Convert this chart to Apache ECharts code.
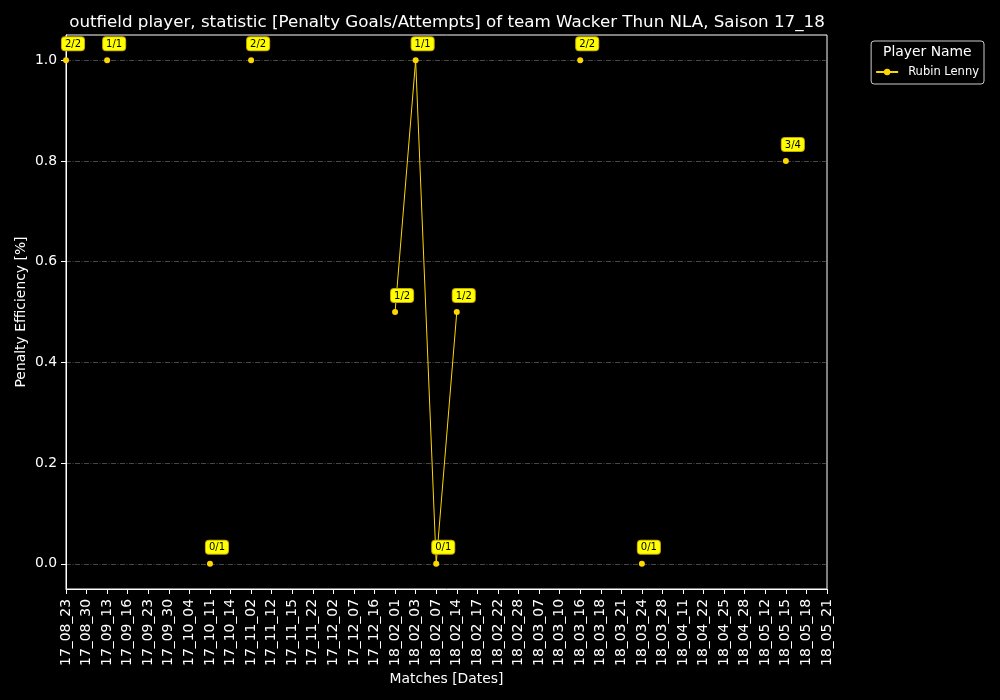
<!DOCTYPE html>
<html><head><meta charset="utf-8">
<script src="https://cdn.jsdelivr.net/npm/echarts@6/dist/echarts.min.js"></script>
<style>html,body{margin:0;padding:0;background:#000;}#c{width:1000px;height:700px;}</style>
</head><body><div id="c"></div>
<script>
const categories = ["17_08_23","17_08_30","17_09_13","17_09_16","17_09_23","17_09_30","17_10_04","17_10_11","17_10_14","17_11_02","17_11_12","17_11_15","17_11_22","17_12_02","17_12_07","17_12_16","18_02_01","18_02_03","18_02_07","18_02_14","18_02_17","18_02_22","18_02_28","18_03_07","18_03_10","18_03_16","18_03_18","18_03_21","18_03_24","18_03_28","18_04_11","18_04_22","18_04_25","18_04_28","18_05_12","18_05_15","18_05_18","18_05_21"];
const efficiency = [1.0,null,1.0,null,null,null,null,0,null,1.0,null,null,null,null,null,null,0.5,1.0,0,0.5,null,null,null,null,null,1.0,null,null,0,null,null,null,null,null,null,0.8,null,null];
const pointLabels = ["2/2","","1/1","","","","","0/1","","2/2","","","","","","","1/2","1/1","0/1","1/2","","","","","","2/2","","","0/1","","","","","","","3/4","",""];
const yTicks = [0,0.2,0.4,0.6,0.8,1.0];
const seriesName = "Rubin Lenny";
const legendTitle = "Player Name";

const FONT = "DejaVu Sans";
const chart = echarts.init(document.getElementById('c'), null, {renderer:'canvas'});
chart.setOption({
  backgroundColor:'#000',
  animation:false,
  title:{text:"outfield player, statistic [Penalty Goals/Attempts] of team Wacker Thun NLA, Saison 17_18",
    left:442, top:9, textAlign:'center',
    textStyle:{color:'#fff', fontFamily:FONT, fontSize:16.7, fontWeight:'normal'}},
  legend:{
    right:16, top:41, orient:'vertical',
    data:[seriesName],
    backgroundColor:'#000', borderColor:'#ccc', borderWidth:1, borderRadius:3,
    padding:[25,5,6,4],
    itemWidth:22, itemHeight:8, itemGap:5,
    textStyle:{color:'#fff', fontFamily:FONT, fontSize:11.5, padding:[0,0,0,5]}
  },
  graphic:[{type:'text', left:883, top:45, z:100, zlevel:1,
    style:{text:legendTitle, fill:'#fff', font:'13.9px "DejaVu Sans"'}}],
  grid:{left:66, right:173, top:35, bottom:111, show:true, borderColor:'#fff', borderWidth:1, backgroundColor:'transparent'},
  xAxis:{type:'category', data:categories, boundaryGap:false,
    name:'Matches [Dates]', nameLocation:'middle', nameGap:83, nameMoveOverlap:false,
    nameTextStyle:{color:'#fff', fontFamily:FONT, fontSize:13.9},
    axisLine:{onZero:false, lineStyle:{color:'#fff'}},
    axisTick:{alignWithLabel:true, interval:0, length:5, lineStyle:{color:'#fff'}},
    axisLabel:{interval:0, rotate:90, color:'#fff', fontFamily:FONT, fontSize:13.9, margin:10},
    splitLine:{show:false}
  },
  yAxis:{type:'value', min:-0.05, max:1.05,
    name:'Penalty Efficiency [%]', nameLocation:'middle', nameGap:38, nameMoveOverlap:false,
    nameTextStyle:{color:'#fff', fontFamily:FONT, fontSize:13.9},
    axisLine:{show:true, onZero:false, lineStyle:{color:'#fff'}},
    axisTick:{show:true, customValues:yTicks, length:5, lineStyle:{color:'#fff'}},
    axisLabel:{customValues:yTicks, color:'#fff', fontFamily:FONT, fontSize:13.9, margin:9,
      formatter:v=>v.toFixed(1)},
    splitLine:{show:true, lineStyle:{color:'#777', width:0.6, type:[5,1.5,1,1.5]}}
  },
  series:[{
    name:seriesName, type:'line', data:efficiency, connectNulls:false,
    symbol:'circle', symbolSize:6,
    itemStyle:{color:'#FFD700'},
    lineStyle:{color:'#FFD700', width:1},
    label:{show:true, position:'top', offset:[7,-2],
      formatter:p=>pointLabels[p.dataIndex],
      color:'#000', fontFamily:FONT, fontSize:10,
      backgroundColor:'#FFFF00', borderColor:'#C8A800', borderWidth:1, borderRadius:3,
      padding:[2,3,1,3]}
  }]
});
</script></body></html>
